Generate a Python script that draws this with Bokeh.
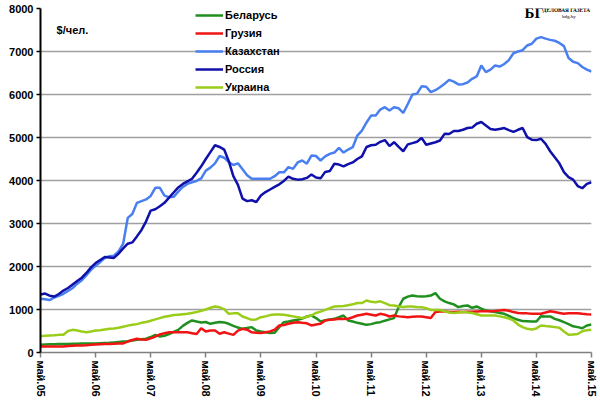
from bokeh.plotting import figure
from bokeh.models import Range1d, Legend, LegendItem, Label, FixedTicker
from bokeh.embed import file_html
from bokeh.resources import INLINE

tick_labels = ["май.05", "май.06", "май.07", "май.08", "май.09", "май.10",
               "май.11", "май.12", "май.13", "май.14", "май.15"]
series_names = ["Беларусь", "Грузия", "Казахстан", "Россия", "Украина"]

belarus = [180, 185, 190, 190, 195, 200, 200, 205, 205, 210, 210, 210, 210, 215, 220, 225, 235, 245, 255, 260,
           280, 295, 310, 320, 360, 410, 370, 390, 430, 480, 527, 620, 690, 745, 720, 700, 710, 667, 690, 710,
           700, 667, 620, 580, 550, 570, 590, 510, 490, 473, 455, 460, 590, 705, 720, 745, 760, 790, 837, 860,
           800, 720, 750, 770, 783, 820, 860, 745, 720, 690, 670, 643, 660, 690, 705, 740, 770, 800, 1055, 1250,
           1300, 1325, 1310, 1300, 1310, 1325, 1380, 1250, 1190, 1150, 1120, 1055, 1080, 1095, 1040, 1070, 1020, 975, 960, 940,
           920, 900, 850, 800, 760, 730, 725, 720, 720, 845, 840, 840, 783, 750, 705, 660, 610, 590, 565, 628,
           650]
georgia = [140, 140, 140, 140, 140, 140, 150, 155, 160, 165, 170, 178, 185, 190, 195, 200, 205, 208, 210, 255,
           290, 318, 300, 295, 330, 370, 420, 450, 470, 473, 473, 473, 470, 450, 430, 565, 490, 510, 510, 435,
           470, 440, 410, 510, 550, 530, 470, 460, 455, 470, 490, 530, 628, 640, 667, 690, 705, 690, 680, 628,
           650, 667, 745, 760, 770, 783, 780, 785, 820, 860, 880, 900, 880, 860, 900, 880, 837, 860, 840, 830,
           820, 830, 835, 837, 820, 800, 940, 955, 960, 940, 940, 945, 940, 950, 950, 955, 960, 958, 960, 965,
           975, 990, 970, 940, 920, 915, 910, 900, 900, 900, 930, 960, 940, 920, 900, 915, 915, 915, 900, 890,
           885]
kazakhstan = [1250, 1240, 1220, 1280, 1320, 1365, 1430, 1500, 1600, 1680, 1800, 1920, 2020, 2100, 2200, 2240, 2250, 2350, 2530, 3130,
              3220, 3480, 3520, 3560, 3640, 3830, 3830, 3650, 3610, 3620, 3740, 3850, 3920, 3960, 3990, 4050, 4230, 4300, 4400, 4570,
              4530, 4430, 4360, 4400, 4260, 4120, 4040, 4040, 4040, 4040, 4040, 4100, 4190, 4190, 4310, 4270, 4420, 4465, 4390, 4580,
              4570, 4465, 4560, 4620, 4650, 4760, 4650, 4720, 4775, 5045, 5160, 5350, 5510, 5510, 5650, 5705, 5630, 5705, 5680, 5570,
              5780, 6000, 6020, 6190, 6180, 6055, 6100, 6170, 6250, 6340, 6300, 6235, 6240, 6280, 6365, 6420, 6675, 6520, 6580, 6675,
              6650, 6710, 6800, 6960, 7000, 7030, 7140, 7180, 7300, 7335, 7300, 7270, 7250, 7200, 7125, 6850, 6760, 6730, 6640, 6580,
              6535]
russia = [1350, 1370, 1320, 1300, 1360, 1440, 1500, 1580, 1660, 1740, 1850, 1980, 2080, 2150, 2220, 2210, 2200, 2300, 2420, 2530,
          2560, 2700, 2850, 3050, 3300, 3330, 3400, 3480, 3600, 3720, 3840, 3920, 3980, 4040, 4180, 4330, 4500, 4660, 4820, 4780,
          4720, 4450, 4100, 3900, 3580, 3520, 3540, 3500, 3650, 3730, 3790, 3850, 3910, 3990, 4090, 4040, 4020, 4030, 4060, 4140,
          4070, 4050, 4200, 4220, 4390, 4370, 4330, 4380, 4420, 4500, 4560, 4780, 4820, 4830, 4900, 4940, 4800, 4890, 4780, 4680,
          4840, 4870, 4900, 4990, 4830, 4860, 4890, 4930, 5085, 5080, 5150, 5150, 5180, 5220, 5230, 5320, 5360, 5280, 5200, 5180,
          5200, 5220, 5170, 5130, 5180, 5220, 5010, 4950, 4940, 4970, 4850, 4680, 4540, 4400, 4195, 4080, 4020, 3870, 3820, 3920,
          3960]
ukraine = [380, 390, 395, 400, 410, 415, 500, 527, 510, 490, 473, 490, 510, 520, 535, 550, 560, 575, 600, 625,
           643, 660, 690, 710, 740, 770, 800, 830, 850, 870, 880, 890, 900, 920, 940, 970, 1000, 1040, 1070, 1050,
           1010, 900, 910, 915, 837, 800, 760, 770, 820, 840, 870, 885, 885, 880, 860, 840, 820, 800, 830, 860,
           920, 950, 990, 1030, 1070, 1075, 1080, 1100, 1120, 1150, 1150, 1210, 1180, 1170, 1190, 1150, 1100, 1095, 1070, 1060,
           1070, 1070, 1060, 1055, 1030, 990, 990, 990, 960, 930, 920, 930, 940, 930, 920, 890, 860, 860, 860, 860,
           840, 820, 790, 745, 650, 590, 550, 535, 560, 628, 615, 605, 590, 575, 490, 410, 420, 430, 495, 520,
           530]

months = list(range(len(russia)))
series = [belarus, georgia, kazakhstan, russia, ukraine]
colors = ["#1f8f1f", "#f01414", "#4a7ff0", "#1010aa", "#9acd1a"]

FONT = "Liberation Sans"

p = figure(width=600, height=404, output_backend="svg", toolbar_location=None,
           x_range=Range1d(0, 120), y_range=Range1d(0, 8000),
           min_border_left=40, min_border_right=9, min_border_top=8, min_border_bottom=52)
p.outline_line_color = None
p.background_fill_color = "white"
p.border_fill_color = "white"
p.styles = {"outline": "1.5px solid #a6a6a6", "outline-offset": "-3px"}

items = []
for name, vals, col in zip(series_names, series, colors):
    r = p.line(months, vals, line_color=col, line_width=2.5)
    items.append(LegendItem(label=name, renderers=[r]))

p.xgrid.grid_line_color = None
p.ygrid.grid_line_color = "#a0a0a0"
p.ygrid.grid_line_width = 1.6
p.ygrid.ticker = FixedTicker(ticks=list(range(0, 8001, 1000)))

p.yaxis.ticker = FixedTicker(ticks=list(range(0, 8001, 1000)))
p.yaxis.axis_line_color = "black"
p.yaxis.axis_line_width = 2
p.yaxis.major_tick_line_color = "black"
p.yaxis.major_tick_line_width = 1.5
p.yaxis.major_tick_out = 4
p.yaxis.major_tick_in = 0
p.yaxis.minor_tick_line_color = None
p.yaxis.major_label_standoff = 3
p.yaxis.major_label_text_font = FONT
p.yaxis.major_label_text_font_style = "bold"
p.yaxis.major_label_text_font_size = "11px"
p.yaxis.major_label_text_color = "black"

xt = list(range(0, 121, 12))
p.xaxis.ticker = FixedTicker(ticks=xt)
p.xaxis.major_label_overrides = {t: lab for t, lab in zip(xt, tick_labels)}
p.xaxis.major_label_orientation = "vertical"
p.xaxis.axis_line_color = "#808080"
p.xaxis.axis_line_width = 1.5
p.xaxis.major_tick_line_color = "#808080"
p.xaxis.major_tick_line_width = 1.5
p.xaxis.major_tick_out = 5
p.xaxis.major_tick_in = 0
p.xaxis.minor_tick_line_color = None
p.xaxis.major_label_standoff = 3
p.xaxis.major_label_text_font = FONT
p.xaxis.major_label_text_font_style = "bold"
p.xaxis.major_label_text_font_size = "11px"
p.xaxis.major_label_text_color = "black"

legend = Legend(items=items, location=(155, 256), orientation="vertical",
                border_line_color=None, background_fill_alpha=0,
                padding=0, margin=0, spacing=0,
                label_height=18, glyph_height=18, glyph_width=28, label_standoff=2,
                label_text_font=FONT, label_text_font_style="bold",
                label_text_font_size="11px", label_text_color="black")
p.add_layout(legend, "center")

p.add_layout(Label(x=3.5, y=7510, text="$/чел.", text_font=FONT, text_font_style="bold",
                   text_font_size="11px", text_color="black", text_baseline="middle"))

# logo
p.add_layout(Label(x=105.4, y=8090, text="БГ", text_font="Liberation Serif", text_font_style="bold",
                   text_font_size="15px", text_color="black", text_baseline="top",
                   background_fill_color="white"))
p.add_layout(Label(x=109.4, y=8030, text="ДЕЛОВАЯ ГАЗЕТА", text_font="Liberation Serif",
                   text_font_style="bold", text_font_size="5.3px", text_color="black",
                   text_baseline="top", background_fill_color="white"))
p.add_layout(Label(x=113.6, y=7870, text="bdg.by", text_font="Liberation Serif",
                   text_font_size="5px", text_color="black", text_baseline="top",
                   background_fill_color="white"))

open("out.html", "w").write(file_html(p, INLINE))
